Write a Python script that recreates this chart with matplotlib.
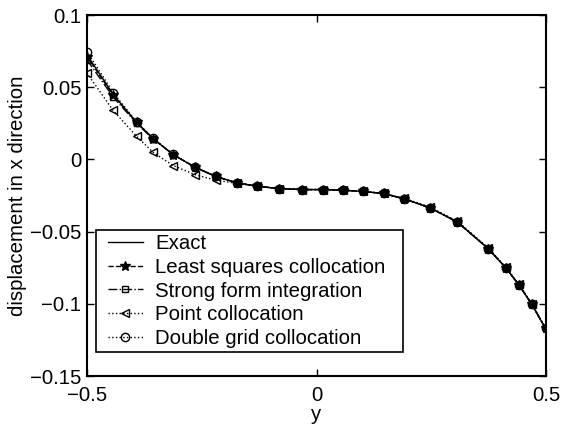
import matplotlib
matplotlib.use("Agg")
import matplotlib.pyplot as plt
from matplotlib.patches import Rectangle

plt.rcParams['font.family'] = ['Liberation Sans', 'DejaVu Sans']

y_nodes = [-0.5, -0.443, -0.392, -0.356, -0.312, -0.265, -0.220, -0.173, -0.129,
           -0.082, -0.032, 0.015, 0.057, 0.101, 0.146, 0.191, 0.247, 0.307,
           0.374, 0.412, 0.441, 0.469, 0.499]

exact = [0.0724, 0.0450, 0.0256, 0.0144, 0.0033, -0.0054, -0.0117, -0.0163, -0.0186,
         -0.0202, -0.0209, -0.0209, -0.0213, -0.0222, -0.0236, -0.0273, -0.0335,
         -0.0434, -0.0618, -0.0749, -0.0869, -0.1003, -0.1171]

least_squares = [0.0712, 0.0445, 0.0256, 0.0144, 0.0033, -0.0054, -0.0117, -0.0163, -0.0186,
                 -0.0202, -0.0209, -0.0209, -0.0213, -0.0222, -0.0236, -0.0273, -0.0335,
                 -0.0434, -0.0618, -0.0749, -0.0869, -0.1003, -0.1171]

strong_form = [0.0689, 0.0432, 0.0250, 0.0142, 0.0032, -0.0055, -0.0118, -0.0163, -0.0186,
               -0.0202, -0.0209, -0.0209, -0.0213, -0.0222, -0.0236, -0.0273, -0.0335,
               -0.0434, -0.0618, -0.0749, -0.0869, -0.1003, -0.1171]

point_coll = [0.0597, 0.0339, 0.0160, 0.0049, -0.0043, -0.0105, -0.0144, -0.0165, -0.0187,
              -0.0202, -0.0209, -0.0209, -0.0213, -0.0222, -0.0236, -0.0270, -0.0330,
              -0.0428, -0.0612, -0.0745, -0.0866, -0.1000, -0.1168]

double_grid = [0.0747, 0.0463, 0.0260, 0.0146, 0.0034, -0.0053, -0.0116, -0.0162, -0.0186,
               -0.0202, -0.0209, -0.0209, -0.0213, -0.0222, -0.0236, -0.0273, -0.0335,
               -0.0434, -0.0618, -0.0749, -0.0869, -0.1003, -0.1171]

labels = ['Exact', 'Least squares collocation', 'Strong form integration',
          'Point collocation', 'Double grid collocation']

xticks = [-0.5, 0, 0.5]
xticklabels = ['\u22120.5', '0', '0.5']
yticks = [-0.15, -0.1, -0.05, 0, 0.05, 0.1]
yticklabels = ['\u22120.15', '\u22120.1', '\u22120.05', '0', '0.05', '0.1']

fig = plt.figure(figsize=(5.68, 4.25), dpi=100)
ax = fig.add_axes([87/568, 1-376/425, 459/568, 361/425])

fs = 14.7
lw = 1.0
ax.plot(y_nodes, exact, '-', color='black', lw=lw, label=labels[0])
ax.plot(y_nodes, least_squares, '--', color='black', lw=lw, marker='*', ms=7,
        mfc='black', mec='black', label=labels[1])
ax.plot(y_nodes, strong_form, '-.', color='black', lw=lw, marker='s', ms=5,
        mfc='none', mec='black', label=labels[2])
ax.plot(y_nodes, point_coll, ':', color='black', lw=lw, marker='<', ms=6,
        mfc='none', mec='black', label=labels[3])
ax.plot(y_nodes, double_grid, ':', color='black', lw=lw, marker='o', ms=6,
        mfc='none', mec='black', label=labels[4])

ax.set_xlim(-0.5, 0.5)
ax.set_ylim(-0.15, 0.1)
ax.set_xticks(xticks)
ax.set_xticklabels(xticklabels, fontsize=fs)
ax.set_yticks(yticks)
ax.set_yticklabels(yticklabels, fontsize=fs)
ax.tick_params(direction='in', top=True, right=True, length=5, width=1)
ax.tick_params(axis='x', pad=7)
ax.tick_params(axis='y', pad=4)
for s in ax.spines.values():
    s.set_linewidth(1.5)

ax.set_xlabel('y', fontsize=fs, labelpad=0)
ax.set_ylabel('displacement in x direction', fontsize=fs, labelpad=2)

leg = ax.legend(loc='lower left', bbox_to_anchor=(17/459, 24/361), borderaxespad=0,
                fontsize=fs, frameon=False,
                handlelength=1.7, handletextpad=0.6, labelspacing=0.23,
                borderpad=0.2)

fig.canvas.draw()
bb = leg.get_window_extent()
pad_left, pad_right = 8, 14
rect = Rectangle((bb.x0 - pad_left, bb.y0), bb.width + pad_left + pad_right, bb.height,
                 transform=None, fill=True, facecolor='white', edgecolor='black',
                 linewidth=1.2, zorder=leg.get_zorder() - 0.1)
ax.add_artist(rect)
rect.set_clip_on(False)

fig.savefig('out.png', dpi=100)
